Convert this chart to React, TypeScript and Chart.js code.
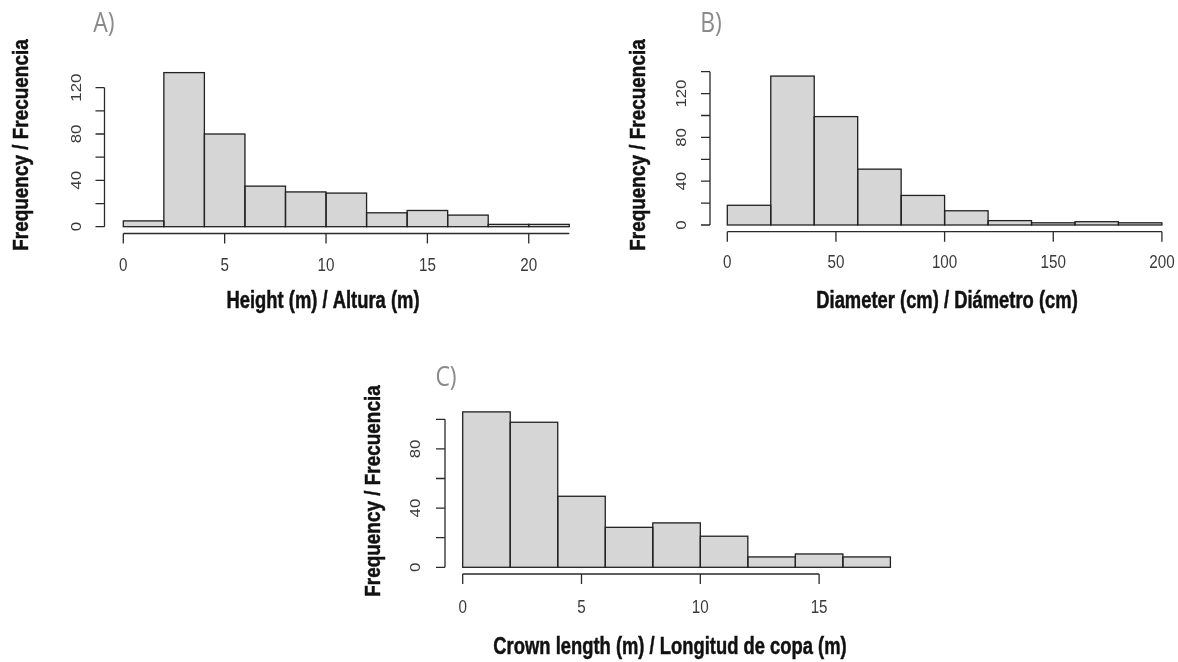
import React, { useEffect, useRef } from "react";
import { Chart, registerables } from "chart.js";

Chart.register(...registerables);

// ---------------- data ----------------
const heightEdges = [0, 2, 4, 6, 8, 10, 12, 14, 16, 18, 20, 22];
const heightCounts = [5, 133, 80, 35, 30, 29, 12, 14, 10, 2, 2];
const heightXTicks = [0, 5, 10, 15, 20];
const heightYTicks = [0, 20, 40, 60, 80, 100, 120];
const heightYLabels = [0, 40, 80, 120];

const diameterEdges = [0, 20, 40, 60, 80, 100, 120, 140, 160, 180, 200];
const diameterCounts = [18, 136, 99, 51, 27, 13, 4, 2, 3, 2];
const diameterXTicks = [0, 50, 100, 150, 200];
const diameterYTicks = [0, 20, 40, 60, 80, 100, 120, 140];
const diameterYLabels = [0, 40, 80, 120];

const crownEdges = [0, 2, 4, 6, 8, 10, 12, 14, 16, 18];
const crownCounts = [105, 98, 48, 27, 30, 21, 7, 9, 7];
const crownXTicks = [0, 5, 10, 15];
const crownYTicks = [0, 20, 40, 60, 80, 100];
const crownYLabels = [0, 40, 80];

const yTitle = "Frequency / Frecuencia";
const heightTitle = "Height (m) / Altura (m)";
const diameterTitle = "Diameter (cm) / Diámetro (cm)";
const crownTitle = "Crown length (m) / Longitud de copa (m)";

// ---------------- layout / style ----------------
const W = 1178;
const H = 662;
const BAR_FILL = "#d6d6d6";
const LINE = "#222";
const TICK_FONT = "16px 'Liberation Sans', Arimo, Arial, sans-serif";
const TITLE_FONT = "bold 21px 'Liberation Sans', Arial, sans-serif";
const TITLE_REF_WIDTH = 193; // width of the Height title in the reference
const PANEL_FONT = "27px 'Open Sans', 'Noto Sans', sans-serif";
const VSTRETCH = 1.1;

type Panel = {
  edges: number[];
  counts: number[];
  xTicks: number[];
  yTicks: number[];
  yLabels: number[];
  xMax: number;
  yMax: number;
  xAxisEnd: number;
  area: { left: number; right: number; top: number; bottom: number };
  yAxisX: number;
  yLabelX: number;
  xAxisY: number;
  xLabelY: number;
  xTitle: string;
  xTitlePos: [number, number];
  yTitlePos: [number, number];
  letter: string;
  letterPos: [number, number];
};

const panels: Panel[] = [
  {
    edges: heightEdges,
    counts: heightCounts,
    xTicks: heightXTicks,
    yTicks: heightYTicks,
    yLabels: heightYLabels,
    xMax: 22,
    yMax: 140,
    xAxisEnd: 22,
    area: { left: 123.3, right: 569.3, top: 64.5, bottom: 226.7 },
    yAxisX: 104.5,
    yLabelX: 77,
    xAxisY: 233.5,
    xLabelY: 266,
    xTitle: heightTitle,
    xTitlePos: [323, 302],
    yTitlePos: [22, 145],
    letter: "A)",
    letterPos: [104, 24],
  },
  {
    edges: diameterEdges,
    counts: diameterCounts,
    xTicks: diameterXTicks,
    yTicks: diameterYTicks,
    yLabels: diameterYLabels,
    xMax: 200,
    yMax: 140,
    xAxisEnd: 200,
    area: { left: 727.3, right: 1161.9, top: 71.7, bottom: 225 },
    yAxisX: 710,
    yLabelX: 682,
    xAxisY: 231.7,
    xLabelY: 263,
    xTitle: diameterTitle,
    xTitlePos: [947, 302],
    yTitlePos: [639, 145],
    letter: "B)",
    letterPos: [711, 24],
  },
  {
    edges: crownEdges,
    counts: crownCounts,
    xTicks: crownXTicks,
    yTicks: crownYTicks,
    yLabels: crownYLabels,
    xMax: 18,
    yMax: 110,
    xAxisEnd: 15,
    area: { left: 462.7, right: 890.4, top: 404.5, bottom: 567.3 },
    yAxisX: 445,
    yLabelX: 416.5,
    xAxisY: 574,
    xLabelY: 608,
    xTitle: crownTitle,
    xTitlePos: [670, 648],
    yTitlePos: [374, 491],
    letter: "C)",
    letterPos: [446, 378],
  },
];

const rAxesPlugin = {
  id: "rAxes",
  afterDatasetsDraw(chart: any, _args: any, opts: any) {
    const p: Panel = opts.panel;
    if (!p) return;
    const ctx: CanvasRenderingContext2D = chart.ctx;
    const xs = chart.scales.x;
    const ys = chart.scales.y;
    ctx.save();

    // bar outlines (R style rect borders)
    const meta = chart.getDatasetMeta(0);
    ctx.strokeStyle = LINE;
    ctx.lineWidth = 1.3;
    meta.data.forEach((el: any) => {
      const { x, y, base, width } = el.getProps(["x", "y", "base", "width"], true);
      ctx.strokeRect(x - width / 2, y, width, base - y);
    });

    // y axis
    ctx.strokeStyle = "#2a2a2a";
    ctx.lineWidth = 1.3;
    const yTop = ys.getPixelForValue(p.yTicks[p.yTicks.length - 1]);
    const yBot = ys.getPixelForValue(p.yTicks[0]);
    ctx.beginPath();
    ctx.moveTo(p.yAxisX, yTop);
    ctx.lineTo(p.yAxisX, yBot);
    p.yTicks.forEach((t) => {
      const py = ys.getPixelForValue(t);
      ctx.moveTo(p.yAxisX - 9, py);
      ctx.lineTo(p.yAxisX, py);
    });
    ctx.stroke();

    // x axis
    const xL = xs.getPixelForValue(p.xTicks[0]);
    const xR = xs.getPixelForValue(p.xAxisEnd);
    ctx.beginPath();
    ctx.moveTo(xL, p.xAxisY);
    ctx.lineTo(xR, p.xAxisY);
    p.xTicks.forEach((t) => {
      const px = xs.getPixelForValue(t);
      ctx.moveTo(px, p.xAxisY);
      ctx.lineTo(px, p.xAxisY + 10);
    });
    ctx.stroke();

    // tick labels
    ctx.fillStyle = "#3a3a3a";
    ctx.font = TICK_FONT;
    ctx.textAlign = "center";
    ctx.textBaseline = "middle";
    p.xTicks.forEach((t) => {
      const px = xs.getPixelForValue(t);
      ctx.save();
      ctx.translate(px, p.xLabelY);
      ctx.scale(0.95, VSTRETCH);
      ctx.fillText(String(t), 0, 0);
      ctx.restore();
    });
    p.yLabels.forEach((t) => {
      const py = ys.getPixelForValue(t);
      ctx.save();
      ctx.translate(p.yLabelX, py);
      ctx.rotate(-Math.PI / 2);
      ctx.scale(1.05, 0.88);
      ctx.fillText(String(t), 0, 0);
      ctx.restore();
    });

    // titles (condensed bold)
    ctx.fillStyle = "#111";
    ctx.strokeStyle = "#111";
    ctx.lineWidth = 0.45;
    ctx.font = TITLE_FONT;
    const compress = TITLE_REF_WIDTH / ctx.measureText(heightTitle).width;
    ctx.save();
    ctx.translate(p.xTitlePos[0], p.xTitlePos[1]);
    ctx.scale(compress, VSTRETCH);
    ctx.fillText(p.xTitle, 0, 0);
    ctx.strokeText(p.xTitle, 0, 0);
    ctx.restore();

    ctx.save();
    ctx.translate(p.yTitlePos[0], p.yTitlePos[1]);
    ctx.rotate(-Math.PI / 2);
    ctx.scale(compress * 1.03, 1.05);
    ctx.fillText(yTitle, 0, 0);
    ctx.strokeText(yTitle, 0, 0);
    ctx.restore();

    // panel letter
    ctx.fillStyle = "#8a8a8a";
    ctx.font = PANEL_FONT;
    ctx.save();
    ctx.translate(p.letterPos[0], p.letterPos[1]);
    ctx.scale(0.85, 1);
    ctx.fillText(p.letter, 0, 0);
    ctx.restore();

    ctx.restore();
  },
};

function HistPanel({ panel }: { panel: Panel }) {
  const ref = useRef<HTMLCanvasElement | null>(null);
  useEffect(() => {
    if (!ref.current) return;
    const centers = panel.counts.map((_, i) => (panel.edges[i] + panel.edges[i + 1]) / 2);
    const chart = new Chart(ref.current, {
      type: "bar",
      data: {
        datasets: [
          {
            data: centers.map((c, i) => ({ x: c, y: panel.counts[i] })),
            backgroundColor: BAR_FILL,
            borderWidth: 0,
            barPercentage: 1,
            categoryPercentage: 1,
            grouped: false,
          } as any,
        ],
      },
      options: {
        responsive: false,
        animation: false,
        events: [],
        devicePixelRatio: 1,
        layout: {
          padding: {
            left: panel.area.left,
            right: W - panel.area.right,
            top: panel.area.top,
            bottom: H - panel.area.bottom,
          },
        },
        plugins: {
          legend: { display: false },
          tooltip: { enabled: false },
          rAxes: { panel },
        } as any,
        scales: {
          x: {
            type: "linear",
            min: 0,
            max: panel.xMax,
            offset: false,
            display: false,
            grid: { offset: false },
          },
          y: {
            type: "linear",
            min: 0,
            max: panel.yMax,
            display: false,
          },
        },
      },
      plugins: [rAxesPlugin],
    });
    return () => chart.destroy();
  }, [panel]);
  return (
    <canvas
      ref={ref}
      width={W}
      height={H}
      style={{ position: "absolute", left: 0, top: 0, width: W, height: H }}
    />
  );
}

export default function App() {
  return (
    <div
      style={{
        position: "absolute",
        left: 0,
        top: 0,
        width: W,
        height: H,
        background: "#fff",
        overflow: "hidden",
      }}
    >
      {panels.map((p, i) => (
        <HistPanel key={i} panel={p} />
      ))}
    </div>
  );
}
